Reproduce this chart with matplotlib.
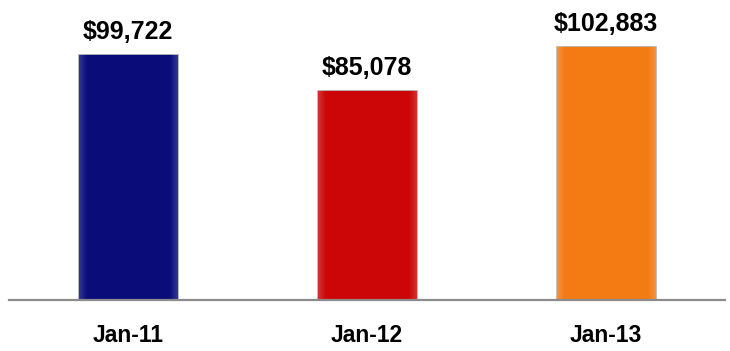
import matplotlib.pyplot as plt
import numpy as np

categories = ["Jan-11", "Jan-12", "Jan-13"]
values = [99722, 85078, 102883]
labels = ["$99,722", "$85,078", "$102,883"]
colors = ["#0A0C7A", "#CC0606", "#F47A14"]

plt.rcParams['font.family'] = ['Liberation Sans', 'DejaVu Sans']

W, H = 730, 351
fig = plt.figure(figsize=(W / 100, H / 100), dpi=100)
ax = fig.add_axes([9 / W, 1 - 300 / H, 716 / W, 300 / H])

x = np.arange(len(categories))
bars = ax.bar(x, values, width=0.42, color=colors, edgecolor='#B0B0B0', linewidth=0.6, zorder=2)

# subtle bevel highlight on each bar
for b, c in zip(bars, colors):
    bx, by = b.get_x(), b.get_y()
    bw, bh = b.get_width(), b.get_height()
    grad = np.linspace(0, 1, 50)
    img = np.ones((2, 50, 4))
    img[..., :3] = 1.0
    prof = np.clip(1 - np.minimum(grad, 1 - grad) * 12, 0, 1) * 0.18
    img[..., 3] = prof[None, :]
    im = ax.imshow(img, extent=[bx, bx + bw, by, by + bh], aspect='auto', zorder=3,
                   interpolation='bilinear')
    im.set_clip_path(b)

ax.set_xlim(-0.5, 2.5)
ax.set_ylim(0, 121600)

for xi, v, lab in zip(x, values, labels):
    ax.annotate(lab, (xi, v), xytext=(0, 11), textcoords='offset points',
                ha='center', va='baseline', fontsize=18, fontweight='bold', color='black')

ax.set_xticks(x)
ax.set_xticklabels(categories, fontsize=16.5, fontweight='bold')
ax.tick_params(axis='x', length=0, pad=17)
ax.set_yticks([])
for s in ['top', 'right', 'left']:
    ax.spines[s].set_visible(False)
ax.spines['bottom'].set_color('#8C8C8C')
ax.spines['bottom'].set_linewidth(1.6)
ax.spines['bottom'].set_zorder(4)
ax.set_facecolor('white')

fig.savefig('out.png', dpi=100)
